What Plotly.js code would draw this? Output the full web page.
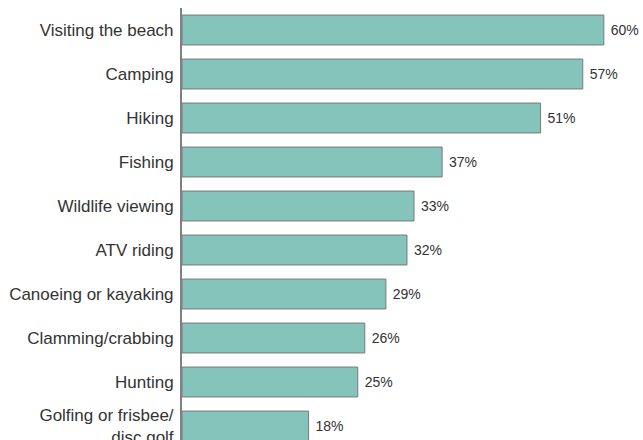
<!DOCTYPE html>
<html>
<head>
<meta charset="utf-8">
<script src="https://cdn.plot.ly/plotly-3.0.1.min.js"></script>
<style>html,body{margin:0;padding:0;background:#fff;}</style>
</head>
<body>
<div id="chart" style="width:643px;height:440px;"></div>
<script>
const categories = ["Visiting the beach", "Camping", "Hiking", "Fishing", "Wildlife viewing", "ATV riding", "Canoeing or kayaking", "Clamming/crabbing", "Hunting", "Golfing or frisbee/<br>disc golf"];
const values = [60, 57, 51, 37, 33, 32, 29, 26, 25, 18];
const valueLabels = values.map(v => v + "%");

const trace = {
  type: "bar",
  orientation: "h",
  y: categories,
  x: values,
  marker: {color: "#84c4bb", line: {color: "#7a7a7a", width: 1}},
  width: 0.68,
  text: valueLabels,
  textposition: "outside",
  texttemplate: " %{text}",
  textfont: {family: "Liberation Sans, Arial, sans-serif", size: 14, color: "#333"},
  cliponaxis: false,
  hoverinfo: "skip"
};

const layout = {
  width: 643, height: 440,
  margin: {l: 182, r: 4, t: 8, b: 0},
  paper_bgcolor: "#fff", plot_bgcolor: "#fff",
  showlegend: false,
  font: {family: "Liberation Sans, Arial, sans-serif", color: "#333"},
  xaxis: {range: [0, 65], showgrid: false, zeroline: false, showline: false, showticklabels: false, ticks: ""},
  yaxis: {
    type: "category",
    range: [9.318, -0.5],
    showgrid: false, zeroline: false,
    showline: true, linecolor: "#808080", linewidth: 2,
    ticks: "outside", ticklen: 3, tickcolor: "rgba(0,0,0,0)",
    tickfont: {size: 17, color: "#333"}
  }
};

Plotly.newPlot("chart", [trace], layout, {displayModeBar: false, staticPlot: true});
</script>
</body>
</html>
